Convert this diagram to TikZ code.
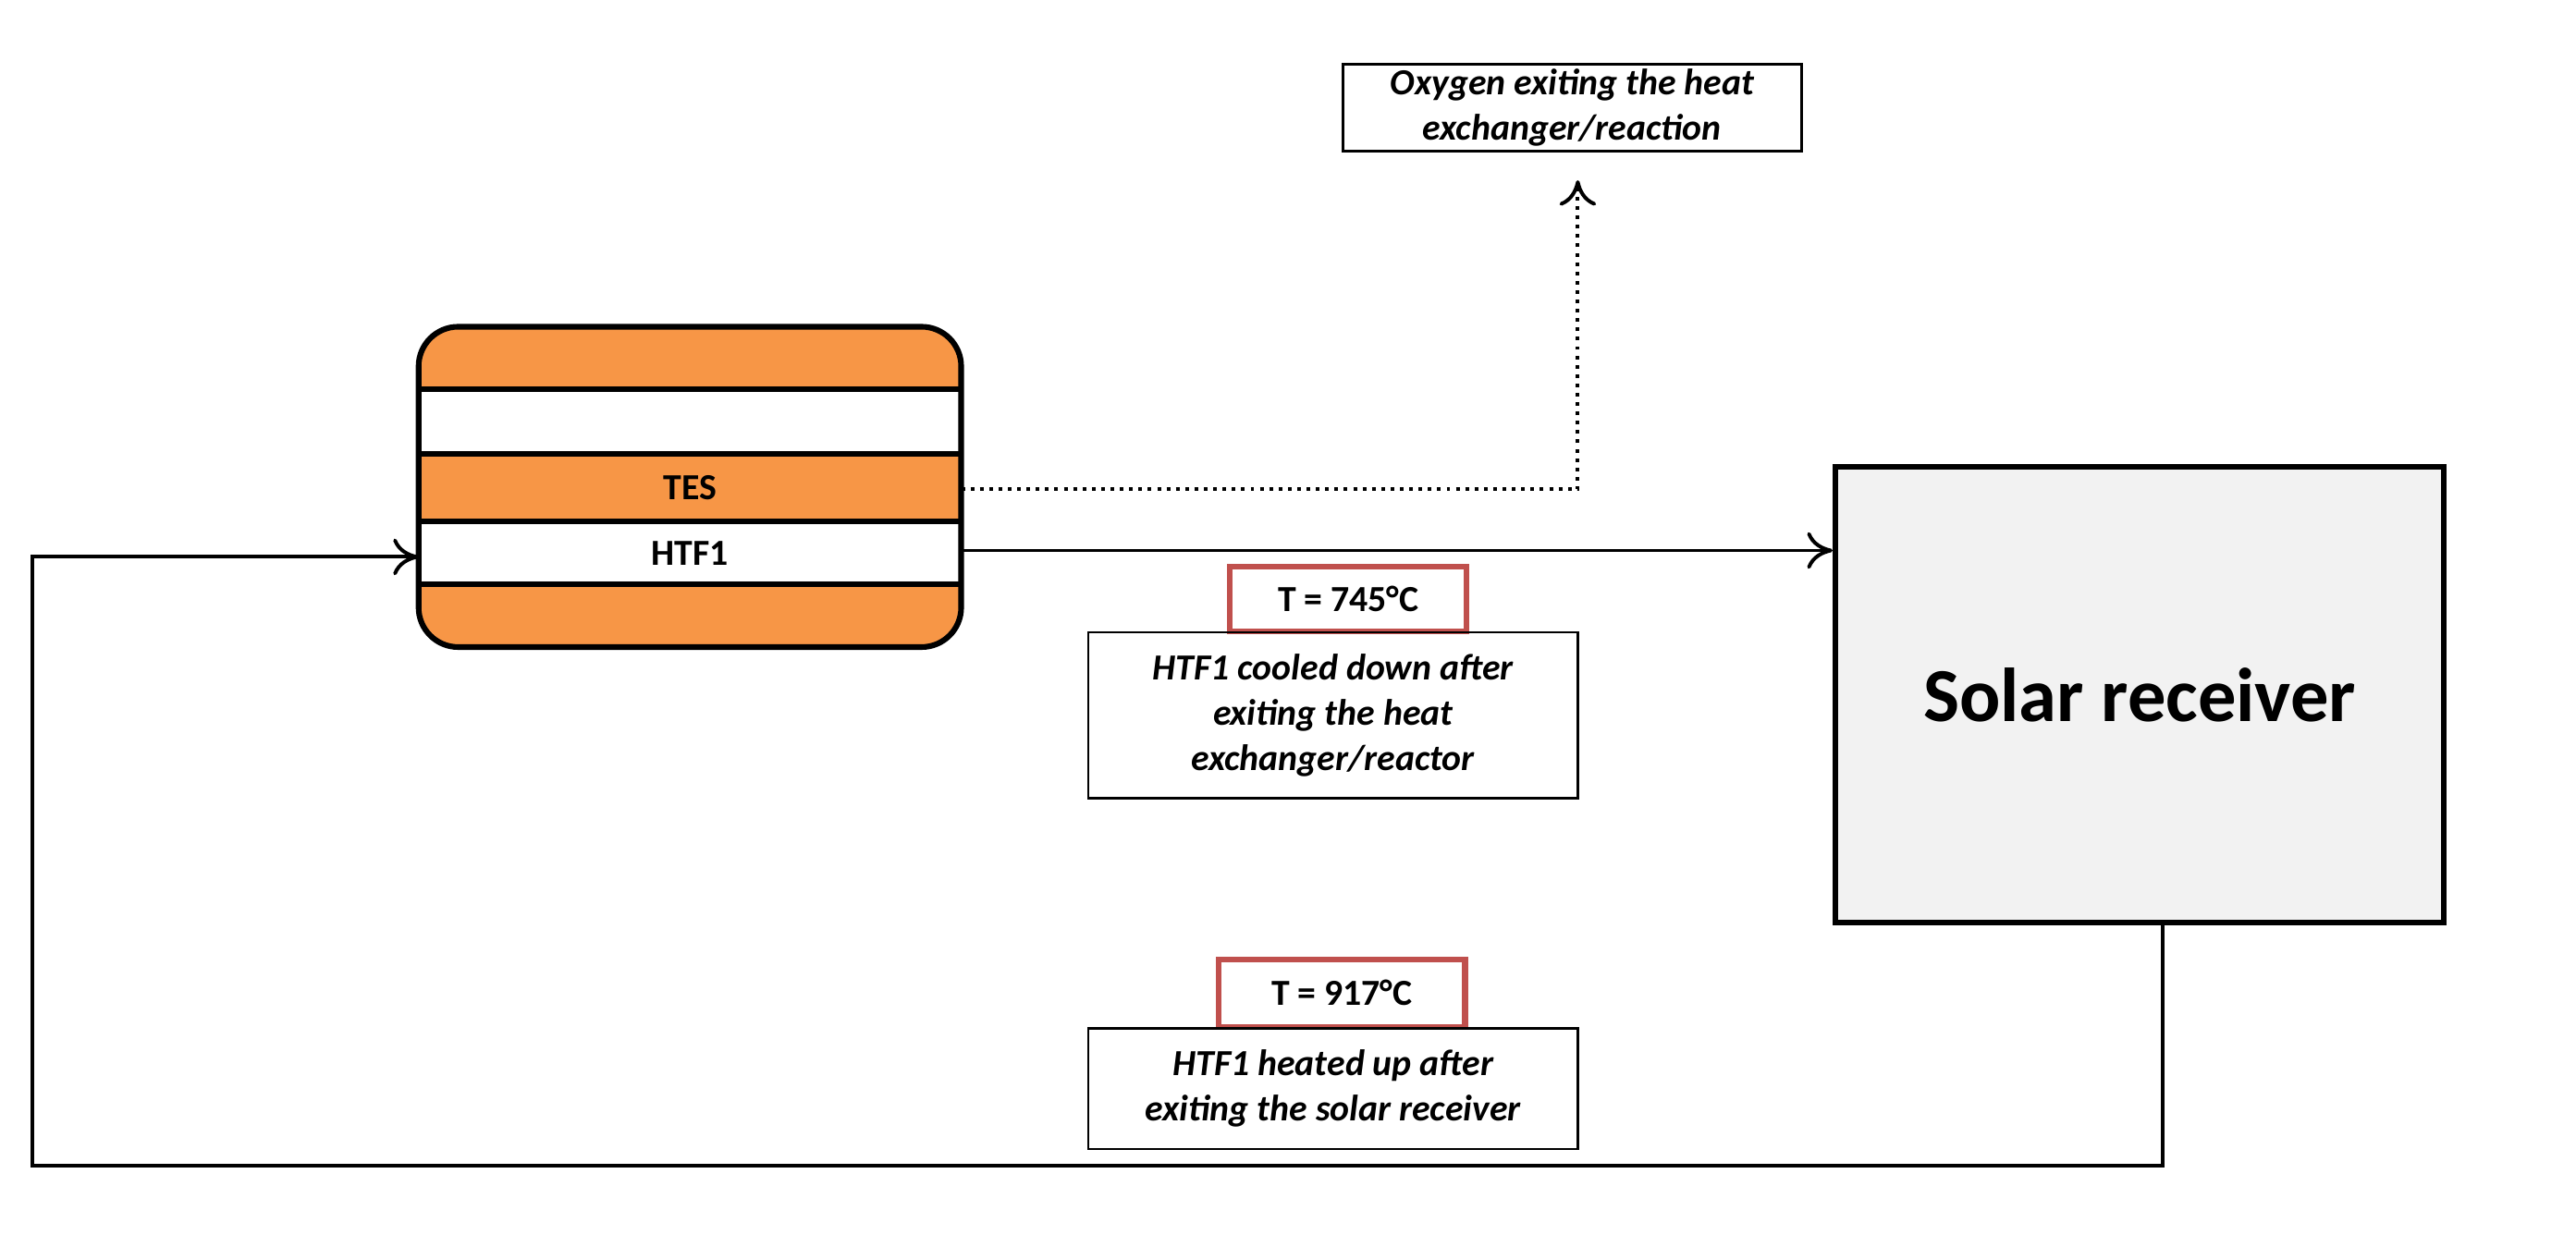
\documentclass[tikz,border=0pt]{standalone}
\usepackage{fontspec}
\setmainfont{Carlito}
\usetikzlibrary{arrows.meta}
\definecolor{tesor}{HTML}{F79646}
\definecolor{tred}{HTML}{C0504D}
\definecolor{recg}{HTML}{F2F2F2}
\begin{document}
\begin{tikzpicture}[x=0.02cm,y=-0.02cm,
  conn/.style={line width=1.3pt,-{To[length=9pt,width=13pt,line width=1.3pt]}},
  desc/.style={draw,line width=0.9pt,font=\bfseries\itshape\fontsize{13}{16}\selectfont,align=center,inner sep=0pt},
  temp/.style={draw=tred,line width=2pt,font=\bfseries\fontsize{13}{16}\selectfont,inner sep=0pt}]
\useasboundingbox (0,0) rectangle (1600,767);
% TES unit
\begin{scope}
\clip[rounded corners=14pt] (260,203) rectangle (597,402);
\fill[tesor] (260,203) rectangle (597,402);
\fill[white] (260,242) rectangle (597,282);
\fill[white] (260,324) rectangle (597,363);
\foreach \y in {242,282,324,363} \draw[line width=2pt] (260,\y) -- (597,\y);
\end{scope}
\draw[line width=2pt,rounded corners=14pt] (260,203) rectangle (597,402);
\node (tes) at (428.5,303) [font=\bfseries\fontsize{13}{16}\selectfont] {TES};
\node (htf) at (428.5,343.5) [font=\bfseries\fontsize{13}{16}\selectfont] {HTF1};
\coordinate (tesR) at (597,304);
\coordinate (htfR) at (597,342);
\coordinate (htfL) at (260,346);
% Solar receiver
\node (sr) [draw,fill=recg,line width=2pt,minimum width=378*0.02cm,minimum height=283*0.02cm,inner sep=0pt,font=\bfseries\fontsize{27}{32}\selectfont] at (1329,431.5) {Solar receiver};
% Oxygen box
\node (ox) [desc,minimum width=285*0.02cm,minimum height=54*0.02cm] at (976.5,67) {Oxygen exiting the heat\\exchanger/reaction};
% temperature labels
\node (t1) [temp,minimum width=147*0.02cm,minimum height=40*0.02cm] at (837.5,372) {T = 745°C};
\node (d1) [desc,minimum width=304*0.02cm,minimum height=103*0.02cm,anchor=north] at (828,392) {HTF1 cooled down after\\exiting the heat\\exchanger/reactor};
\node (t2) [temp,minimum width=153*0.02cm,minimum height=42*0.02cm] at (833.5,617) {T = 917°C};
\node (d2) [desc,minimum width=304*0.02cm,minimum height=75*0.02cm,anchor=north] at (828,638) {HTF1 heated up after\\exiting the solar receiver};
% connectors
\coordinate (oxc) at (980,304);
\draw[conn,dotted] (tesR) -- (oxc) -- (980,112);
\draw[conn] (htfR) -- (htfR -| sr.west);
\coordinate (b1) at (1343,724);
\coordinate (b2) at (20,724);
\coordinate (b3) at (20,346);
\draw[conn] (1343,573) -- (b1) -- (b2) -- (b3) -- (htfL);
\end{tikzpicture}
\end{document}
